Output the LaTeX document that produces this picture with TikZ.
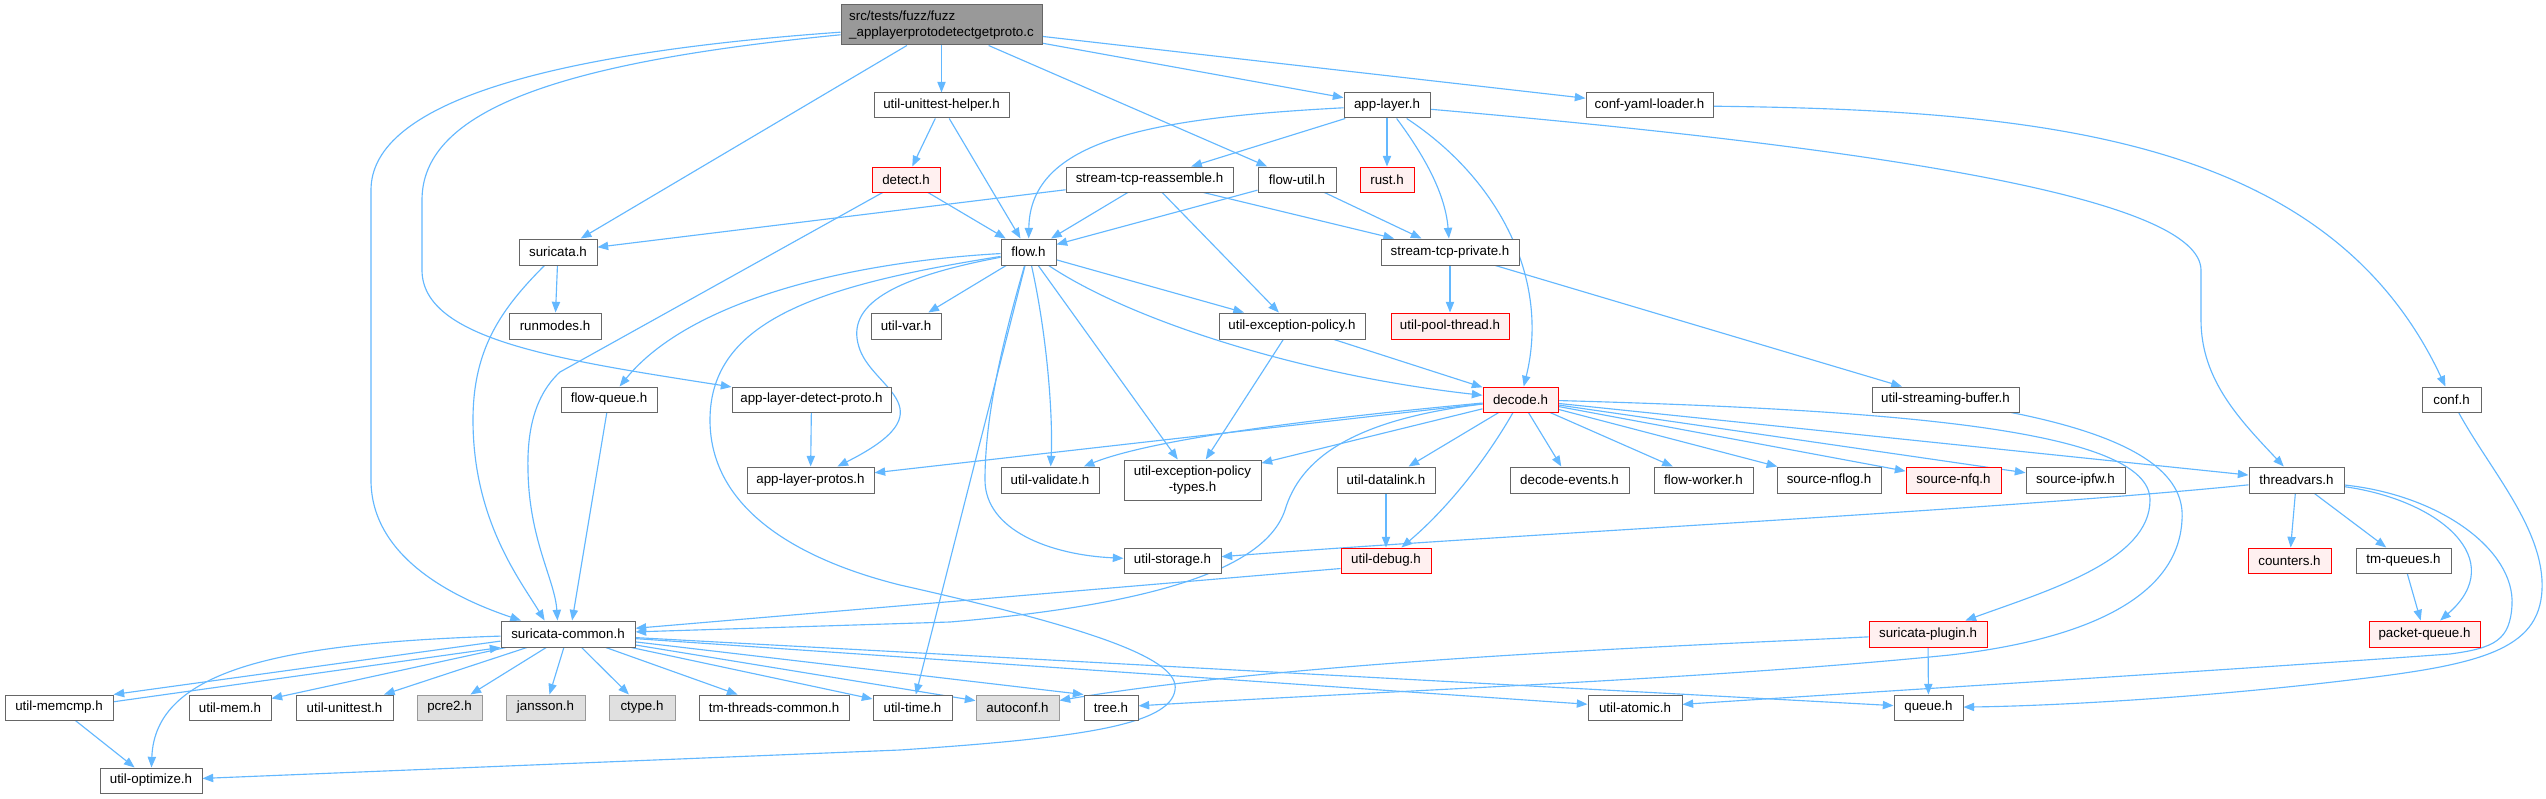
\documentclass[tikz,border=0pt]{standalone}
\usepackage{fontspec}
\setmainfont{Liberation Sans}
\usetikzlibrary{arrows.meta}
\definecolor{edgeblue}{HTML}{63B8FF}
\definecolor{bd}{HTML}{666666}
\definecolor{bdlight}{HTML}{999999}
\definecolor{redfill}{HTML}{FFF0F0}
\definecolor{grayfill}{HTML}{E0E0E0}
\definecolor{srcfill}{HTML}{999999}
\pgfdeclarelayer{back}
\pgfdeclarelayer{edges}
\pgfsetlayers{back,edges,main}
\newcommand\mybox[7]{\node[#1,minimum width={(#5-#4)*0.75pt},minimum height={(#7-#6)*0.75pt}] (#2) at ({(#4+#5)/2},{(#6+#7)/2}) {#3};}
\tikzset{
  nd/.style={draw=bd, fill=white, line width=0.75pt, inner sep=0pt, align=center, font=\fontsize{10pt}{11.5pt}\selectfont},
  rednd/.style={nd, draw=red, fill=redfill},
  graynd/.style={nd, draw=bdlight, fill=grayfill},
  srcnd/.style={nd, draw=bd, fill=srcfill, align=left},
  dep/.style={draw=edgeblue, line width=0.85pt, -{Triangle[length=8pt,width=6.2pt]}}
}
\begin{document}
\begin{tikzpicture}[x=0.75pt,y=-0.75pt]
\begin{pgfonlayer}{back}
\fill[white] (0,0) rectangle (2546,799);
\end{pgfonlayer}
\useasboundingbox (0,0) rectangle (2546,799);

\mybox{srcnd}{src}{src/tests/fuzz/fuzz\\\_applayerprotodetectgetproto.c}{841}{1042}{5}{45}
\mybox{nd}{uuh}{util-unittest-helper.h}{874}{1009}{93}{118}
\mybox{nd}{al}{app-layer.h}{1344}{1430}{93}{118}
\mybox{nd}{cyl}{conf-yaml-loader.h}{1586}{1713}{93}{118}
\mybox{rednd}{det}{detect.h}{872}{940}{167}{192}
\mybox{nd}{str}{stream-tcp-reassemble.h}{1066}{1233}{167}{192}
\mybox{nd}{fu}{flow-util.h}{1258}{1336}{167}{192}
\mybox{rednd}{rust}{rust.h}{1360}{1414}{167}{192}
\mybox{nd}{sur}{suricata.h}{519}{597}{239}{265}
\mybox{nd}{flow}{flow.h}{1001}{1056}{239}{265}
\mybox{nd}{stp}{stream-tcp-private.h}{1381}{1519}{239}{265}
\mybox{nd}{rm}{runmodes.h}{509}{601}{313}{339}
\mybox{nd}{uvar}{util-var.h}{871}{941}{313}{339}
\mybox{nd}{uep}{util-exception-policy.h}{1219}{1365}{313}{339}
\mybox{rednd}{upt}{util-pool-thread.h}{1391}{1509}{313}{339}
\mybox{nd}{fq}{flow-queue.h}{561}{657}{387}{412}
\mybox{nd}{adp}{app-layer-detect-proto.h}{732}{891}{387}{412}
\mybox{rednd}{dec}{decode.h}{1483}{1558}{387}{412}
\mybox{nd}{usb}{util-streaming-buffer.h}{1872}{2019}{387}{412}
\mybox{nd}{conf}{conf.h}{2422}{2481}{387}{412}
\mybox{nd}{alp}{app-layer-protos.h}{747}{874}{467}{493}
\mybox{nd}{uval}{util-validate.h}{1001}{1099}{467}{493}
\mybox{nd}{uept}{util-exception-policy\\-types.h}{1124}{1261}{460}{500}
\mybox{nd}{udl}{util-datalink.h}{1337}{1435}{467}{493}
\mybox{nd}{dev}{decode-events.h}{1510}{1629}{467}{493}
\mybox{nd}{fw}{flow-worker.h}{1654}{1753}{467}{493}
\mybox{nd}{nflog}{source-nflog.h}{1777}{1881}{467}{493}
\mybox{rednd}{nfq}{source-nfq.h}{1906}{2001}{467}{493}
\mybox{nd}{ipfw}{source-ipfw.h}{2026}{2125}{467}{493}
\mybox{nd}{tv}{threadvars.h}{2249}{2344}{467}{493}
\mybox{nd}{ust}{util-storage.h}{1124}{1221}{548}{573}
\mybox{rednd}{udbg}{util-debug.h}{1341}{1431}{548}{573}
\mybox{rednd}{cnt}{counters.h}{2248}{2331}{548}{573}
\mybox{nd}{tmq}{tm-queues.h}{2356}{2451}{548}{573}
\mybox{nd}{sc}{suricata-common.h}{501}{635}{621}{647}
\mybox{rednd}{splug}{suricata-plugin.h}{1869}{1987}{621}{647}
\mybox{rednd}{pq}{packet-queue.h}{2369}{2480}{621}{647}
\mybox{nd}{umc}{util-memcmp.h}{5}{113}{695}{720}
\mybox{nd}{umem}{util-mem.h}{189}{271}{695}{720}
\mybox{nd}{uut}{util-unittest.h}{296}{393}{695}{720}
\mybox{graynd}{pcre}{pcre2.h}{417}{482}{695}{720}
\mybox{graynd}{jan}{jansson.h}{506}{585}{695}{720}
\mybox{graynd}{ctype}{ctype.h}{609}{675}{695}{720}
\mybox{nd}{ttc}{tm-threads-common.h}{699}{849}{695}{720}
\mybox{nd}{utime}{util-time.h}{873}{952}{695}{720}
\mybox{graynd}{ac}{autoconf.h}{976}{1059}{695}{720}
\mybox{nd}{tree}{tree.h}{1084}{1138}{695}{720}
\mybox{nd}{uat}{util-atomic.h}{1588}{1682}{695}{720}
\mybox{nd}{queue}{queue.h}{1894}{1963}{695}{720}
\mybox{nd}{uopt}{util-optimize.h}{100}{202}{768}{793}

\begin{pgfonlayer}{edges}
% source file
\draw[dep] (src) -- (sur);
\draw[dep] (src) .. controls (520,55) and (371,110) .. (371,190) -- (371,480) .. controls (371,560) and (460,600) .. (sc.164);
\draw[dep] (src) .. controls (560,62) and (422,110) .. (422,200) -- (422,270) .. controls (422,340) and (560,360) .. (adp);
\draw[dep] (src) -- (uuh);
\draw[dep] (src) -- (fu);
\draw[dep] (src) -- (al);
\draw[dep] (src) -- (cyl);
% util-unittest-helper, detect
\draw[dep] (uuh) -- (det);
\draw[dep] (uuh) -- (flow);
\draw[dep] (det) -- (flow);
\draw[dep] (det) -- (560,372) .. controls (535,395) and (527,430) .. (528,470) .. controls (529,540) and (555,580) .. (sc.128);
% suricata.h
\draw[dep] (sur) -- (rm);
\draw[dep] (sur) .. controls (500,310) and (473,350) .. (473,420) .. controls (473,520) and (520,580) .. (sc.150);
\draw[dep] (fq) -- (sc.73);
% flow.h
\draw[dep] (flow) .. controls (850,262) and (690,300) .. (fq);
\draw[dep] (flow) .. controls (820,285) and (710,320) .. (710,420) .. controls (710,510) and (800,560) .. (900,585) .. controls (1100,630) and (1180,660) .. (1175,690) .. controls (1170,725) and (1080,738) .. (900,750) -- (uopt);
\draw[dep] (flow) .. controls (880,280) and (845,310) .. (860,350) .. controls (875,390) and (950,410) .. (alp);
\draw[dep] (flow) -- (uvar);
\draw[dep] (flow) -- (utime);
\draw[dep] (flow) .. controls (1000,350) and (985,420) .. (985,480) .. controls (985,530) and (1050,555) .. (ust);
\draw[dep] (flow) .. controls (1048,340) and (1053,420) .. (uval);
\draw[dep] (flow) -- (uept);
\draw[dep] (flow) -- (uep);
\draw[dep] (flow) .. controls (1130,320) and (1300,375) .. (dec);
% app-layer.h
\draw[dep] (al) .. controls (1150,118) and (1030,140) .. (flow);
\draw[dep] (al) -- (str);
\draw[dep] (al) -- (rust);
\draw[dep] (al) .. controls (1420,150) and (1445,190) .. (stp);
\draw[dep] (al) .. controls (1500,180) and (1550,280) .. (dec);
\draw[dep] (al) .. controls (1900,150) and (2200,200) .. (2201,270) -- (2201,320) .. controls (2201,380) and (2240,420) .. (tv);
% conf
\draw[dep] (cyl) .. controls (2050,110) and (2330,140) .. (conf);
\draw[dep] (conf) .. controls (2490,470) and (2545,530) .. (2542,590) .. controls (2539,650) and (2480,665) .. (2350,680) .. controls (2200,698) and (2050,706) .. (queue);
% stream-tcp-reassemble, flow-util
\draw[dep] (str) -- (sur);
\draw[dep] (str) -- (flow);
\draw[dep] (str) -- (uep);
\draw[dep] (str) -- (stp);
\draw[dep] (fu) -- (flow);
\draw[dep] (fu) -- (stp);
\draw[dep] (stp) -- (upt);
\draw[dep] (stp) -- (usb);
\draw[dep] (uep) -- (dec);
\draw[dep] (uep) -- (uept);
\draw[dep] (adp) -- (alp);
% decode.h
\draw[dep] (dec) -- (alp);
\draw[dep] (dec) .. controls (1300,420) and (1150,440) .. (uval);
\draw[dep] (dec) -- (uept);
\draw[dep] (dec) .. controls (1350,420) and (1300,460) .. (1285,510) .. controls (1265,570) and (1150,605) .. (950,622) -- (sc);
\draw[dep] (dec) -- (udl);
\draw[dep] (dec) .. controls (1480,470) and (1440,515) .. (udbg);
\draw[dep] (dec) -- (dev);
\draw[dep] (dec) -- (fw);
\draw[dep] (dec) -- (nflog);
\draw[dep] (dec) -- (nfq);
\draw[dep] (dec) -- (ipfw);
\draw[dep] (dec) -- (tv);
\draw[dep] (dec) .. controls (1900,410) and (2150,430) .. (2150,500) .. controls (2150,560) and (2050,590) .. (splug);
\draw[dep] (udl) -- (udbg);
\draw[dep] (udbg.190) -- (sc);
% threadvars.h
\draw[dep] (tv) .. controls (2000,510) and (1500,535) .. (ust);
\draw[dep] (tv) -- (cnt);
\draw[dep] (tv) -- (tmq);
\draw[dep] (tv) .. controls (2440,500) and (2510,560) .. (pq);
\draw[dep] (tv) .. controls (2440,495) and (2515,550) .. (2512,605) .. controls (2510,640) and (2495,648) .. (2450,654) .. controls (2200,672) and (1900,690) .. (uat);
\draw[dep] (tmq) -- (pq);
% streaming buffer, plugin
\draw[dep] (usb) .. controls (2150,440) and (2185,480) .. (2182,520) .. controls (2178,600) and (2080,640) .. (1950,655) .. controls (1700,680) and (1400,690) .. (tree);
\draw[dep] (splug) .. controls (1700,645) and (1300,660) .. (ac);
\draw[dep] (splug) -- (queue);
% suricata-common.h
\draw[dep] (sc.186) -- (umc.north east);
\draw[dep] (umc.6) -- (sc.south west);
\draw[dep] (umc) -- (uopt);
\draw[dep] (sc) .. controls (280,643) and (155,670) .. (uopt);
\draw[dep] (sc) -- (umem);
\draw[dep] (sc) -- (uut);
\draw[dep] (sc) -- (pcre);
\draw[dep] (sc) -- (jan);
\draw[dep] (sc) -- (ctype);
\draw[dep] (sc) -- (ttc);
\draw[dep] (sc) -- (utime);
\draw[dep] (sc) -- (ac);
\draw[dep] (sc) -- (tree.north west);
\draw[dep] (sc) -- (uat);
\draw[dep] (sc) -- (queue);
\end{pgfonlayer}
\end{tikzpicture}
\end{document}
